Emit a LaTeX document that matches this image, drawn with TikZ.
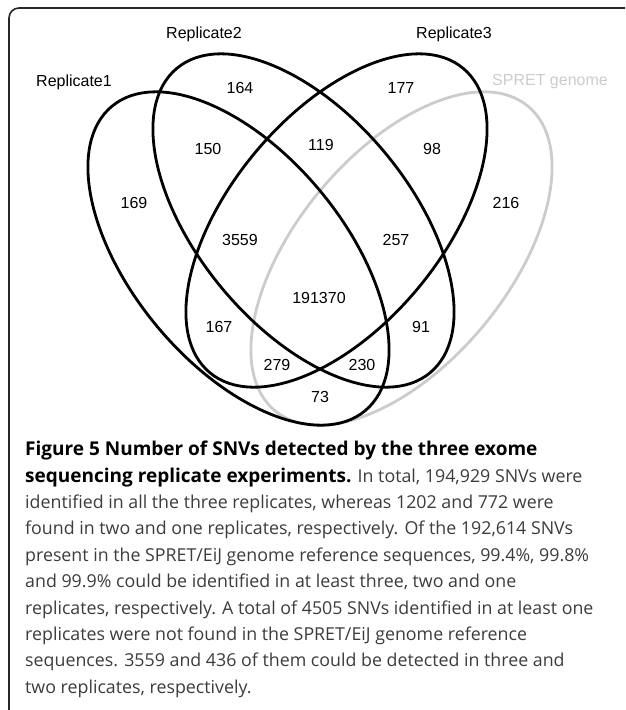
\documentclass[tikz,border=0pt]{standalone}
\usepackage{fontspec}
\setmainfont{Liberation Sans}
\newfontfamily\captionfont{Open Sans}
\definecolor{spret}{RGB}{204,204,204}
\definecolor{captext}{RGB}{60,60,60}
\newcommand{\capbold}[1]{{\fontsize{19}{26.4}\selectfont\bfseries\color{black}#1}}
\begin{document}
\begin{tikzpicture}[x=1pt, y=-1pt, line join=round, line cap=round,
		font=\fontsize{16}{19}\selectfont]
		\def \ra{198pt}
		\def \rb{106pt}
		\def \tilt{50.25}
		\useasboundingbox (0,0) rectangle (625,710);
		\begin{scope}
			\clip (0,0) rectangle (625,710);
			\draw[line width=1.6pt, black!85, rounded corners=10pt] (9,8) rectangle (660,740);
		\end{scope}
		% the four sets, grey one first
		\foreach \cx/\cy/\ang/\col in {401.5/258.5/\tilt/spret, 238.5/258.5/-\tilt/black,
			303.5/220.5/-\tilt/black, 336.5/220.5/\tilt/black}
		\draw[line width=2.8pt, \col, rotate around={\ang:(\cx,\cy)}] (\cx,\cy) ellipse [x radius=\ra, y radius=\rb];
		\node (rep1) at (74,82) {Replicate1};
		\node (rep2) at (204,34) {Replicate2};
		\node (rep3) at (454,34) {Replicate3};
		\node[text=spret] (spretg) at (550,82) {SPRET genome};
		\foreach \x/\y/\n in {240/88/164, 401/88/177, 208/149/150, 321/145/119, 432/149/98,
			134/203/169, 506/203/216, 240/240/3559, 396/240/257, 319/298/191370,
			219/327/167, 421/327/91, 277/365/279, 362/365/230, 320/397/73}
		\node (c\n) at (\x,\y) {\n};
		\node[anchor=north west, inner sep=0pt, align=left, text=captext,
			font=\captionfont\fontsize{17.8}{26.4}\selectfont] (caption) at (25,441) {%
			\capbold{Figure 5 Number of SNVs detected by the three exome}\\
			\capbold{sequencing replicate experiments.} In total, 194,929 SNVs were\\
			identified in all the three replicates, whereas 1202 and 772 were\\
			found in two and one replicates, respectively. Of the 192,614 SNVs\\
			present in the SPRET/EiJ genome reference sequences, 99.4\%, 99.8\%\\
			and 99.9\% could be identified in at least three, two and one\\
			replicates, respectively. A total of 4505 SNVs identified in at least one\\
			replicates were not found in the SPRET/EiJ genome reference\\
			sequences. 3559 and 436 of them could be detected in three and\\
			two replicates, respectively.};
\end{tikzpicture}
\end{document}
